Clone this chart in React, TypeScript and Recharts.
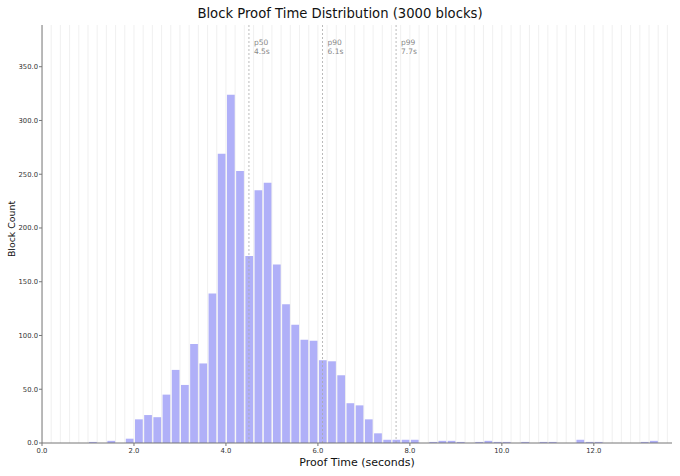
import React from 'react';
import { ComposedChart, Bar, XAxis, YAxis, ReferenceLine } from 'recharts';

const binStarts = [
  1.0, 1.2, 1.4, 1.6, 1.8, 2.0, 2.2, 2.4, 2.6, 2.8,
  3.0, 3.2, 3.4, 3.6, 3.8, 4.0, 4.2, 4.4, 4.6, 4.8,
  5.0, 5.2, 5.4, 5.6, 5.8, 6.0, 6.2, 6.4, 6.6, 6.8,
  7.0, 7.2, 7.4, 7.6, 7.8, 8.0, 8.2, 8.4, 8.6, 8.8,
  9.0, 9.2, 9.4, 9.6, 9.8, 10.0, 10.2, 10.4, 10.6, 10.8,
  11.0, 11.2, 11.4, 11.6, 11.8, 12.0, 12.2, 12.4, 12.6, 12.8,
  13.0, 13.2,
];
const counts = [
  1, 0, 2, 0, 4, 22, 26, 24, 45, 68,
  54, 92, 74, 139, 269, 324, 253, 174, 235, 242,
  166, 129, 110, 96, 95, 77, 76, 63, 37, 35,
  22, 9, 3, 3, 3, 3, 0, 1, 2, 2,
  1, 0, 1, 2, 1, 1, 0, 1, 0, 1,
  1, 0, 0, 3, 1, 1, 0, 0, 0, 0,
  1, 2,
];
const binWidth = 0.2;
const xTicks = [0, 2, 4, 6, 8, 10, 12];
const yTicks = [0, 50, 100, 150, 200, 250, 300, 350];
const percentileNames = ['p50', 'p90', 'p99'];
const percentileValues = [4.5, 6.1, 7.7];
const xMax = 13.7;
const yMax = 388.8;

const data = binStarts.map((s, i) => ({ x: s + binWidth / 2, count: counts[i] }));
const gridLines = Array.from({ length: 69 }, (_, i) => Math.round(i * binWidth * 10) / 10);

const FONT = '"DejaVu Sans", sans-serif';

export default function App() {
  return (
    <div style={{ position: 'absolute', left: 0, top: 0, width: 680, height: 476, background: '#fff', fontFamily: FONT }}>
      <div
        style={{
          position: 'absolute', left: 0, top: 5, width: 680, textAlign: 'center',
          fontSize: 13.2, color: '#111', fontFamily: FONT, lineHeight: '18px',
        }}
      >
        Block Proof Time Distribution (3000 blocks)
      </div>
      <ComposedChart
        width={680}
        height={476}
        data={data}
        margin={{ top: 25, right: 8, bottom: 13, left: 8 }}
        style={{ position: 'absolute', left: 0, top: 0 }}
      >
        {gridLines.map((g) => (
          <ReferenceLine key={'g' + g} x={g} stroke="#ececec" strokeWidth={0.8} ifOverflow="hidden" />
        ))}
        <XAxis
          type="number"
          dataKey="x"
          domain={[0, xMax]}
          ticks={xTicks}
          allowDataOverflow
          tickFormatter={(v: number) => v.toFixed(1)}
          tick={{ fontSize: 6.8, fill: '#333', fontFamily: FONT }}
          tickSize={3}
          tickMargin={2}
          height={20}
          axisLine={{ stroke: '#777' }}
          tickLine={{ stroke: '#777' }}
          label={{
            content: (props: any) => {
              const vb = props.viewBox || {};
              return (
                <text x={vb.x + vb.width / 2} y={465.5} textAnchor="middle" fontSize={11} fill="#111" fontFamily={FONT}>
                  Proof Time (seconds)
                </text>
              );
            },
          }}
        />
        <YAxis
          type="number"
          domain={[0, yMax]}
          ticks={yTicks}
          allowDataOverflow
          tickFormatter={(v: number) => v.toFixed(1)}
          tick={{ fontSize: 6.8, fill: '#333', fontFamily: FONT }}
          tickSize={3}
          tickMargin={1}
          width={34}
          axisLine={{ stroke: '#777' }}
          tickLine={{ stroke: '#777' }}
          label={{
            content: () => {
              const cy = 229;
              return (
                <text x={15} y={cy} transform={`rotate(-90, 15, ${cy})`} textAnchor="middle" fontSize={9.4} fill="#111" fontFamily={FONT}>
                  Block Count
                </text>
              );
            },
          }}
        />
        <Bar dataKey="count" fill="#b0b0f8" barSize={8} isAnimationActive={false} />
        {percentileValues.map((p, i) => (
          <ReferenceLine
            key={'p' + i}
            x={p}
            stroke="#aaa"
            strokeWidth={0.8}
            strokeDasharray="2 2"
            label={{
              content: (props: any) => {
                const vb = props.viewBox || {};
                return (
                  <text x={vb.x + 5} y={45} fontSize={7.5} fill="#888" fontFamily={FONT}>
                    <tspan x={vb.x + 5} y={45}>{percentileNames[i]}</tspan>
                    <tspan x={vb.x + 5} y={53.5}>{p.toFixed(1) + 's'}</tspan>
                  </text>
                );
              },
            }}
          />
        ))}
      </ComposedChart>
    </div>
  );
}
